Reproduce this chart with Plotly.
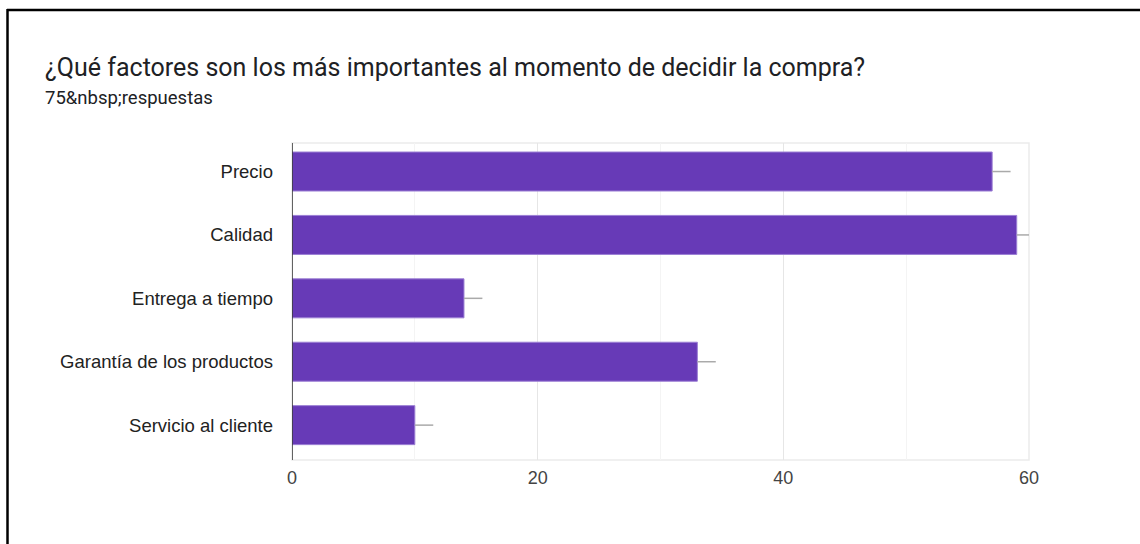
import plotly.graph_objects as go

# Survey: which factors matter most when deciding a purchase (75 responses)
categorias = ["Precio", "Calidad", "Entrega a tiempo", "Garantía de los productos", "Servicio al cliente"]
respuestas = [57, 59, 14, 33, 10]
extension = [1.5, 1.5, 1.5, 1.5, 1.5]
ticks_x = [0, 20, 40, 60]

W, H = 1140, 544
ML, MR, MT, MB = 292, 111, 143, 84
pw, ph = W - ML - MR, H - MT - MB


def px_x(p):
    return (p - ML) / pw


def px_y(p):
    return (H - MB - p) / ph


fig = go.Figure()
fig.add_trace(go.Bar(
    x=respuestas,
    y=categorias,
    orientation="h",
    marker=dict(color="#673ab7", line=dict(color="#9b7fd4", width=1)),
    error_x=dict(type="data", symmetric=False, array=extension,
                 arrayminus=[0] * len(extension),
                 color="#aaaaaa", thickness=1.5, width=0),
    hoverinfo="x+y",
))

fig.update_layout(
    width=W, height=H,
    margin=dict(l=ML, r=MR, t=MT, b=MB),
    paper_bgcolor="white", plot_bgcolor="white",
    showlegend=False,
    bargap=0.385,
    font=dict(family="Liberation Sans, Arial, sans-serif", color="#222222"),
    xaxis=dict(
        range=[0, 60], tickvals=ticks_x, showgrid=True,
        gridcolor="#e6e6e6", gridwidth=1,
        minor=dict(dtick=10, showgrid=True, gridcolor="#f4f4f4", gridwidth=1),
        zeroline=False, showline=False, ticks="",
        tickfont=dict(size=18, color="#444444"),
        ticklabelstandoff=5,
    ),
    yaxis=dict(
        categoryorder="array", categoryarray=categorias[::-1],
        range=[-0.55, 4.45],
        showgrid=False, zeroline=False, ticks="",
        tickfont=dict(size=18.5, color="#222222"),
        ticklabelstandoff=18,
    ),
    shapes=[
        # light frame around plot area
        dict(type="rect", xref="paper", yref="paper", x0=0, x1=1, y0=0, y1=1,
             line=dict(color="#ebebeb", width=1.5), layer="below"),
        # baseline at zero
        dict(type="line", xref="x", yref="paper", x0=0, x1=0, y0=0, y1=1,
             line=dict(color="#333333", width=1.5)),
        # outer card edges
        dict(type="line", xref="paper", yref="paper",
             x0=px_x(7), x1=px_x(W + 5), y0=px_y(10), y1=px_y(10),
             line=dict(color="black", width=2.5)),
        dict(type="line", xref="paper", yref="paper",
             x0=px_x(7.5), x1=px_x(7.5), y0=px_y(9), y1=px_y(H + 5),
             line=dict(color="black", width=2.5)),
    ],
    annotations=[
        dict(text="¿Qué factores son los más importantes al momento de decidir la compra?",
             xref="paper", yref="paper", x=px_x(43), y=px_y(68),
             xanchor="left", yanchor="middle", showarrow=False,
             font=dict(family="Roboto, Arial, sans-serif", size=25, color="#202124")),
        dict(text="75&amp;nbsp;respuestas",
             xref="paper", yref="paper", x=px_x(43), y=px_y(98),
             xanchor="left", yanchor="middle", showarrow=False,
             font=dict(family="Roboto, Arial, sans-serif", size=18.5, color="#202124")),
    ],
)

fig.write_html("out.html")
